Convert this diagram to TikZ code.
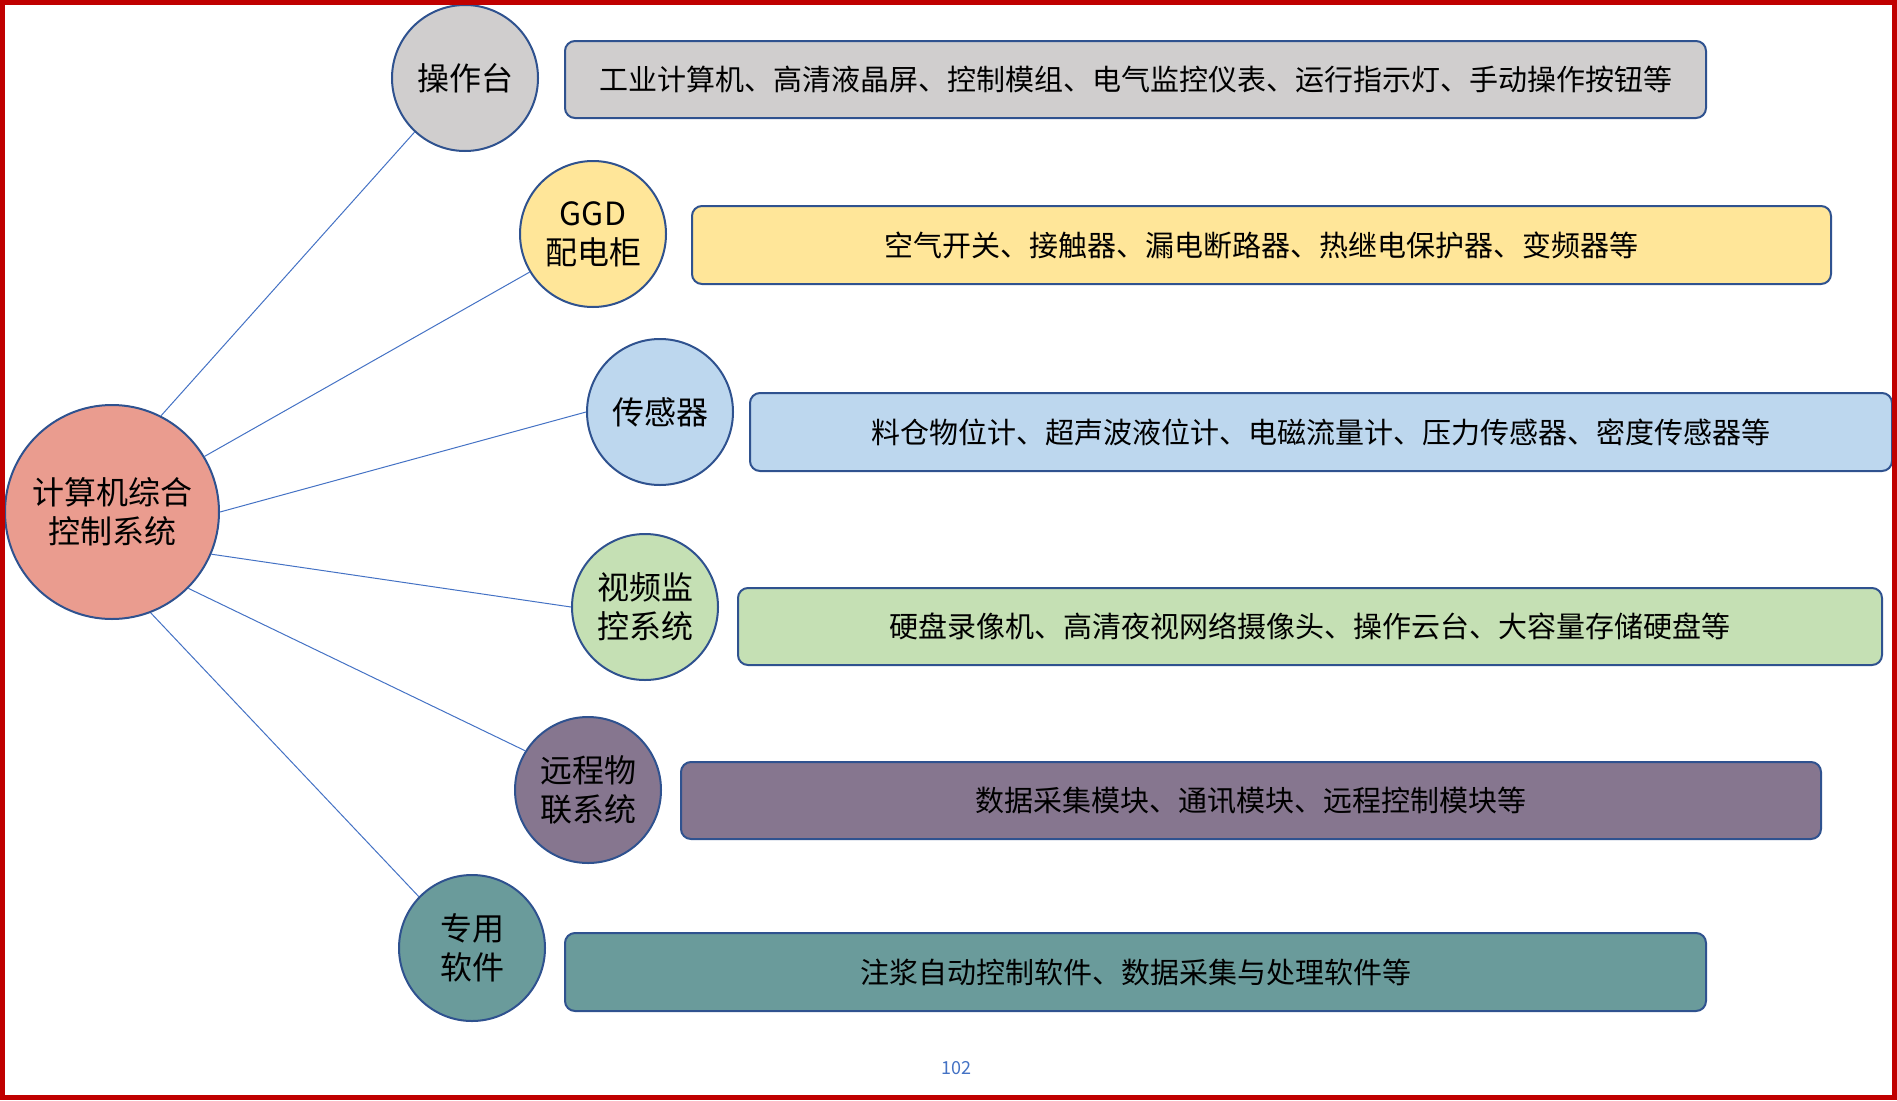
\documentclass[tikz,border=0pt]{standalone}
\usepackage{fontspec}
\setmainfont{Noto Sans CJK SC}
\definecolor{bordc}{HTML}{2F528F}
\definecolor{linkc}{HTML}{4472C4}
\definecolor{redc}{HTML}{C00000}
\definecolor{grayc}{HTML}{D0CECE}
\definecolor{yelc}{HTML}{FFE699}
\definecolor{bluec}{HTML}{BDD7EE}
\definecolor{grnc}{HTML}{C5E0B4}
\definecolor{purc}{RGB}{134,118,143}
\definecolor{tealc}{RGB}{106,155,155}
\definecolor{salc}{RGB}{234,156,143}
\begin{document}
\begin{tikzpicture}[x=1pt,y=-1pt,
 bub/.style={circle, draw=bordc, line width=2pt, inner sep=0pt, minimum size=146pt, align=center, font=\fontsize{32}{39}\selectfont},
 cat/.style={rounded corners=10pt, draw=bordc, line width=2pt, inner sep=0pt, font=\fontsize{29}{35}\selectfont},
 link/.style={draw=linkc, line width=1pt}]
\useasboundingbox (0,0) rectangle (1897,1100);
% category boxes
\node[cat, fill=grayc, minimum width=1141pt, minimum height=77pt] (b1) at (1135.5,79.5) {工业计算机、高清液晶屏、控制模组、电气监控仪表、运行指示灯、手动操作按钮等};
\node[cat, fill=yelc, minimum width=1139pt, minimum height=78pt] (b2) at (1261.5,245) {空气开关、接触器、漏电断路器、热继电保护器、变频器等};
\node[cat, fill=bluec, minimum width=1142pt, minimum height=78pt] (b3) at (1321,432) {料仓物位计、超声波液位计、电磁流量计、压力传感器、密度传感器等};
\node[cat, fill=grnc, minimum width=1144pt, minimum height=77pt] (b4) at (1310,626.5) {硬盘录像机、高清夜视网络摄像头、操作云台、大容量存储硬盘等};
\node[cat, fill=purc, minimum width=1140pt, minimum height=77pt] (b5) at (1251,800.5) {数据采集模块、通讯模块、远程控制模块等};
\node[cat, fill=tealc, minimum width=1141pt, minimum height=78pt] (b6) at (1135.5,972) {注浆自动控制软件、数据采集与处理软件等};
% bubbles
\node[bub, fill=salc, minimum size=214pt] (main) at (112,512) {计算机综合\\控制系统};
\node[bub, fill=grayc] (c1) at (465,78) {操作台};
\node[bub, fill=yelc] (c2) at (593,234) {GGD\\配电柜};
\node[bub, fill=bluec] (c3) at (660,412) {传感器};
\node[bub, fill=grnc] (c4) at (645,607) {视频监\\控系统};
\node[bub, fill=purc] (c5) at (588,790) {远程物\\联系统};
\node[bub, fill=tealc] (c6) at (472,948) {专用\\软件};
% links
\draw[link] (main.63) -- (c1.227);
\draw[link] (main.31.6) -- (c2.211);
\draw[link] (main.0) -- (c3.180);
\draw[link] (main.-23) -- (c4.180);
\draw[link] (main.-45) -- (c5.148);
\draw[link] (main.-69) -- (c6.136);
% page number
\node[text=linkc, font=\fontsize{18}{20}\selectfont, inner sep=0pt] (pg) at (956,1068) {102};
% frame
\draw[redc, line width=5pt] (2,2) rectangle (1894.5,1097.5);
\end{tikzpicture}
\end{document}
